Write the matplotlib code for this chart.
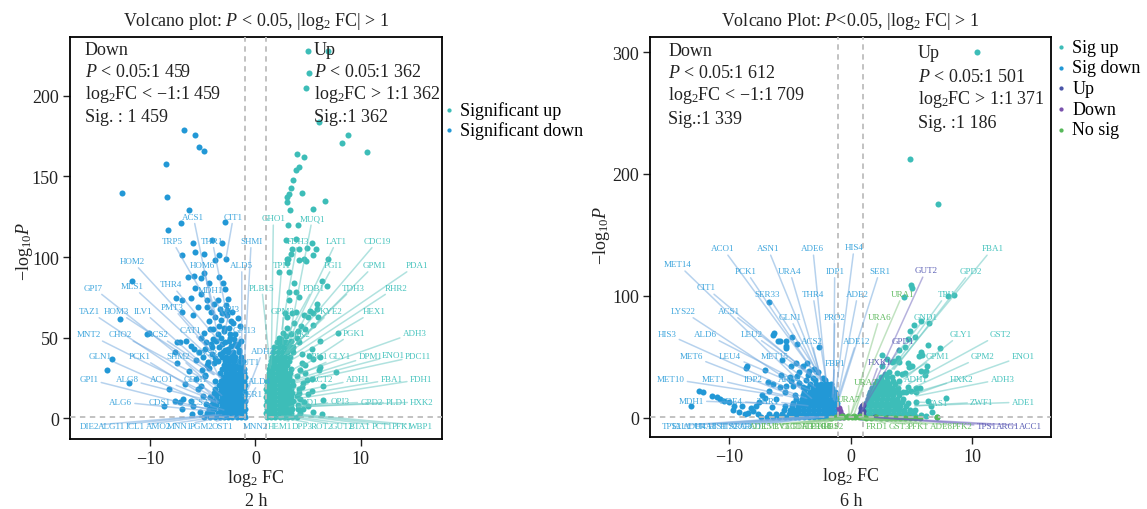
import matplotlib as mp
mp.use("Agg")
import matplotlib.pyplot as plt

mp.rcParams.update({
    "font.family": ["Liberation Serif", "DejaVu Serif"],
    "mathtext.fontset": "custom",
    "mathtext.rm": "Liberation Serif",
    "mathtext.it": "Liberation Serif:italic",
    "mathtext.bf": "Liberation Serif:bold",
    "axes.unicode_minus": True,
})

TEAL = "#3dbdb8"
BLUE = "#2298d6"
NAVY = "#4a55a8"
PURPLE = "#7a52ad"
GREEN = "#57b85a"
LABEL_BLUE = "#3fa6dd"
LABEL_TEAL = "#45c3bd"
LINE_BLUE = "#6fa6dd"
LINE_TEAL = "#62c6c0"
INK = "#222222"
DOT = 19

# ---- 2 h, down: scattered points
p1_down_fc = [-6.8, -5.7, -5.4, -4.9, -8.5, -8.4, -12.7, -6.3, -7.1, -8.3, -2.9, -5.9, -4.1, -3.2, -5.7, -4.9, -7.0,
              -3.5, -2.8, -3.8, -11.7, -12.9, -13.6, -14.1, -12.0, -8.7, -8.2, -10.3, -10.1, -6.4, -5.8, -5.2, -4.9,
              -4.4, -3.5, -3.1, -2.9, -5.7, -7.5, -7.0, -6.1, -5.2, -4.6, -2.6, -5.5, -7.0, -5.9, -7.4, -7.2, -6.6,
              -6.1, -5.8, -7.6, -7.4, -6.3, -6.7, -7.6, -7.2, -6.9, -7.0, -6.0, -5.5, -6.1, -5.9, -5.3, -4.6, -4.2,
              -3.9, -3.4, -2.8, -2.2, -1.7, -4.4, -3.8, -3.3, -2.7, -2.1, -1.5, -4.9, -4.3, -3.6, -3.0, -2.4, -1.9,
              -5.2, -4.7, -4.0, -3.2, -2.5, -1.8, -5.4, -4.8, -4.1, -3.5, -2.9, -2.3, -1.6, -5.6, -5.0, -4.5, -5.1,
              -4.8, -5.6, -5.2, -5.0, -4.7, -3.6, -3.2, -2.7, -2.3, -4.0, -3.5, -3.0, -2.5, -2.0, -4.2, -3.7, -3.3,
              -2.9, -2.4, -1.9, -4.6, -4.1, -3.8, -3.4, -2.6, -2.1, -1.7, -4.8, -4.4, -3.9, -1.4]
p1_down_logp = [179, 176, 168, 166, 158, 137, 140, 129, 121, 117, 122, 109, 110.5, 109, 103, 102, 101,
                101, 99, 98, 85, 61.5, 36.6, 30, 22, 7.5, 18, 52, 53, 87.7, 88, 87, 90,
                84, 87.5, 84, 80, 81, 74.5, 73, 74.5, 77, 73, 74, 69, 66, 64, 47, 47, 48,
                45, 43, 41, 34, 29, 21, 10.6, 10, 12, 5.6, 2.5, 18, 10.6, 7.5, 3.7, 69, 66,
                71, 68, 70, 66, 62, 60, 63, 61, 64, 59, 57, 53, 55, 52, 56, 50, 52,
                50, 47, 49, 46, 48, 45, 41, 43, 40, 44, 42, 45, 42, 36, 38, 35, 30,
                27, 24, 20, 14, 9, 73, 65, 67, 60, 55, 57, 54, 56, 49, 46, 48, 50,
                47, 52, 46, 33, 44, 37, 40, 43, 40, 46, 26, 31, 34, 48]
# 2 h, down: the dense part of the cloud, one row per -log10 P level
p1_down_rows = [
    (0.5, [-1.0, -1.4, -1.8, -2.2, -2.6, -3.0, -3.4, -3.8, -4.3, -4.9]),
    (3.0, [-1.1, -1.6, -2.0, -2.4, -2.8, -3.2, -3.6, -4.1, -4.6]),
    (5.5, [-1.0, -1.4, -1.8, -2.2, -2.6, -3.0, -3.4, -3.9, -4.4]),
    (8.0, [-1.1, -1.6, -2.0, -2.4, -2.8, -3.2, -3.7, -4.2]),
    (10.5, [-1.0, -1.4, -1.8, -2.2, -2.6, -3.0, -3.5, -4.0]),
    (13.0, [-1.1, -1.6, -2.0, -2.4, -2.8, -3.2, -3.7, -4.3]),
    (15.5, [-1.0, -1.4, -1.8, -2.2, -2.6, -3.0, -3.5, -3.9]),
    (18.0, [-1.1, -1.6, -2.0, -2.4, -2.8, -3.3, -3.8]),
    (20.5, [-1.0, -1.4, -1.8, -2.2, -2.6, -3.0, -3.5]),
    (23.0, [-1.1, -1.6, -2.0, -2.4, -2.8, -3.3, -3.8]),
    (25.5, [-1.0, -1.4, -1.8, -2.2, -2.6, -3.1]),
    (28.0, [-1.1, -1.6, -2.0, -2.4, -2.8, -3.4]),
    (30.5, [-1.1, -1.5, -1.9, -2.3, -2.8, -3.2]),
    (33.0, [-1.3, -1.7, -2.1, -2.5, -3.0]),
    (35.5, [-1.2, -1.6, -2.0, -2.5, -2.9, -3.6]),
    (38.0, [-1.4, -1.9, -2.3, -2.8, -3.2]),
    (41.0, [-1.6, -2.1, -2.6, -3.1]),
]

# ---- 2 h, up: scattered points
p1_up_fc = [5.0, 6.9, 5.1, 4.8, 6.0, 8.8, 8.2, 10.6, 3.9, 4.6, 4.1, 3.8, 3.6, 3.4, 3.0, 3.2, 4.4, 3.1, 4.0, 3.3,
            5.5, 3.0, 6.6, 2.9, 3.8, 5.4, 3.5, 4.1, 4.9, 5.7, 3.4, 5.5, 4.6, 4.1, 4.8, 3.1, 3.0, 6.9, 3.0, 2.2, 3.2,
            6.3, 6.8, 3.7, 3.2, 3.8, 4.1, 3.2, 5.8, 5.8, 5.2, 5.5, 4.6, 5.0, 5.9, 2.8, 3.5, 3.8, 3.0, 5.5, 7.8, 6.1,
            5.4, 4.4, 5.1, 6.1, 5.5, 6.1, 7.6, 6.0, 4.9, 5.4, 6.4, 5.4, 5.0, 6.4, 5.0, 5.5, 6.3, 4.5, 4.0, 4.3, 3.7,
            3.0, 4.7, 4.0, 3.4, 2.6, 3.9, 3.4, 2.9, 4.1, 3.2, 2.4, 3.6, 2.8, 2.2, 3.0, 3.5, 4.4, 4.7, 3.9, 4.4, 4.2,
            4.7, 4.2, 4.5, 4.1, 4.6, 3.9]
p1_up_logp = [228, 228, 214, 205, 184, 176, 171, 165, 164, 162, 156, 154, 148, 143, 137, 139, 140, 120, 120, 129,
              130, 134, 135, 110.5, 111, 109, 105, 105, 105.6, 105, 102, 101, 99, 98, 97.5, 99, 96, 99, 99, 91, 91,
              85, 82, 84, 78, 78, 75, 73, 71, 68, 66.5, 65, 64, 63, 62.7, 65, 65, 66, 62.7, 58, 53, 48,
              43, 40, 38.5, 38, 36.6, 32, 28.5, 30, 23.6, 24, 20, 16.8, 15, 11, 7.5, 4, 2.5, 5.6, 5.6, 57, 59,
              56, 55, 54, 52, 53, 50, 48, 51, 47, 45, 49, 44, 47, 50, 43, 42, 34, 28, 26, 19, 12,
              33, 30, 22, 18, 10, 14]
# 2 h, up: dense part
p1_up_rows = [
    (0.5, [1.1, 1.5, 1.9, 2.3, 2.7, 3.1, 3.5, 3.9]),
    (3.0, [1.0, 1.4, 1.8, 2.2, 2.6, 3.0, 3.4, 4.2]),
    (5.5, [1.1, 1.5, 1.9, 2.3, 2.7, 3.1, 3.5]),
    (8.0, [1.0, 1.4, 1.8, 2.2, 2.6, 3.0, 3.4, 4.0]),
    (10.5, [1.1, 1.5, 1.9, 2.3, 2.7, 3.1, 3.6]),
    (13.0, [1.0, 1.4, 1.8, 2.2, 2.6, 3.0, 3.4]),
    (15.5, [1.1, 1.5, 1.9, 2.3, 2.7, 3.1, 3.5, 4.1]),
    (18.0, [1.0, 1.4, 1.8, 2.2, 2.6, 3.0, 3.4]),
    (20.5, [1.1, 1.5, 1.9, 2.3, 2.7, 3.1, 3.6]),
    (23.0, [1.1, 1.4, 1.8, 2.2, 2.6, 3.0, 3.5]),
    (25.5, [1.2, 1.6, 2.0, 2.4, 2.8, 3.2]),
    (28.0, [1.3, 1.7, 2.1, 2.5, 2.9, 3.3]),
    (30.5, [1.3, 1.6, 2.0, 2.4, 2.8, 3.4]),
    (33.0, [1.4, 1.8, 2.2, 2.6, 3.0]),
    (35.5, [1.5, 1.9, 2.3, 2.7, 3.2]),
    (38.0, [1.6, 2.0, 2.4, 2.8, 3.3]),
    (41.0, [1.7, 2.1, 2.5, 3.0, 3.6]),
    (44.0, [1.8, 2.2, 2.6, 3.1]),
    (47.0, [2.0, 2.4, 2.9]),
]

# ---- 2 h gene labels
p1_down_genes = ["ACS1", "CIT1", "TRP5", "THR1", "SHMI", "HOM2", "HOM6", "ALD5", "GPI7", "MLS1", "THR4", "MDH1",
                 "PMT3", "TAZ1", "HOM3", "ILV1", "GPI3", "CAT1", "GPI13", "MNT2", "CHO2", "ACS2", "ADH2", "GUT1",
                 "GLN1", "PCK1", "SHM2", "CYS3", "GPI1", "ALG8", "ACO1", "GDH1", "ALD4", "SER1", "ALG6", "CDS1",
                 "SCS7", "DIE2", "ALG11", "ICL1", "AMO2", "MNN1", "PGM2", "OST1", "MNN2"]
p1_down_gene_fc = [-3.6, -2.8, -3.7, -2.6, -1.1, -4.3, -3.8, -1.3, -4.6, -4.2, -3.1, -2.9,
                   -4.3, -4.2, -4.0, -3.9, -3.0, -3.6, -2.3, -3.9, -3.7, -3.2, -0.7, -1.0,
                   -4.2, -3.6, -3.2, -3.4, -4.3, -3.9, -3.6, -3.5, -0.8, -1.0, -3.9, -3.5,
                   -3.0, -3.8, -3.5, -3.2, -2.8, -2.5, -2.0, -1.5, -1.2]
p1_down_gene_logp = [52, 99, 62, 60, 28, 45, 64, 33, 25, 37, 45, 62,
                     42, 16, 27, 27, 52, 37, 40, 13, 20, 25, 18, 28,
                     8, 9, 14, 25, 5, 10, 10, 10, 10, 9, 4, 5,
                     5, 2, 2, 2, 1.5, 1.5, 1.5, 1.5, 1]
p1_up_genes = ["GHO1", "MUQ1", "FDH3", "LAT1", "CDC19", "TPI1", "PGI1", "GPM1", "PDA1", "PLB15", "PDB1", "TDH3",
               "RHR2", "GPM3", "KYE2", "HEX1", "PGK1", "ADH3", "PFK2", "TPK1", "GLY1", "DPM1", "ENO1", "PDC11",
               "ACT2", "ADH1", "FBA1", "FDH1", "GPD1", "OPI3", "GPD2", "PLD1", "HXK2", "HEM1", "DPP3", "ROT2",
               "GUT2", "BTA1", "PCT1", "PFK1", "WBP1"]
p1_up_gene_fc = [1.5, 3.3, 2.5, 3.0, 3.0, 1.9, 3.0, 2.9, 3.0, 1.4, 2.9, 3.2,
                 3.3, 2.6, 3.2, 3.4, 4.0, 3.5, 2.8, 3.5, 3.8, 3.8, 3.8, 3.8,
                 3.5, 3.8, 3.9, 3.9, 3.2, 4.0, 4.0, 4.0, 4.0, 1.3, 1.8, 2.2,
                 2.5, 3.0, 3.5, 4.0, 4.0]
p1_up_gene_logp = [33, 53, 55, 46, 44, 45, 42, 40, 40, 31, 50, 42,
                   38, 46, 42, 36, 30, 26, 40, 30, 26, 24, 23, 22,
                   18, 16, 14, 12, 7, 7, 8, 7, 7, 1, 1, 1,
                   1.5, 1.5, 2, 2, 2.5]
p1_label_pos = {
    "ACS1": (-5.9, 125), "CIT1": (-2.1, 125), "TRP5": (-7.9, 110), "THR1": (-4.1, 110), "SHMI": (-0.4, 110),
    "HOM2": (-11.7, 97.5), "HOM6": (-5.0, 95), "ALD5": (-1.3, 95), "GPI7": (-15.4, 81), "MLS1": (-11.7, 82),
    "THR4": (-8.0, 83), "MDH1": (-4.3, 79.5), "PMT3": (-7.9, 69), "TAZ1": (-15.8, 66.5), "HOM3": (-13.2, 66.5),
    "ILV1": (-10.7, 66.5), "GPI3": (-2.4, 67.7), "CAT1": (-6.2, 54.7), "GPI13": (-1.1, 54.7), "MNT2": (-15.8, 52),
    "CHO2": (-12.8, 52), "ACS2": (-9.3, 52), "ADH2": (0.7, 41.6), "GUT1": (-0.7, 34.8), "GLN1": (-14.7, 38.5),
    "PCK1": (-11.0, 38.5), "SHM2": (-7.3, 38.5), "CYS3": (-4.6, 40.4), "GPI1": (-15.8, 24), "ALG8": (-12.2, 24),
    "ACO1": (-8.9, 24), "GDH1": (-5.7, 24), "ALD4": (0.4, 23), "SER1": (-0.3, 15), "ALG6": (-12.8, 10),
    "CDS1": (-9.1, 10), "SCS7": (-5.5, 10), "DIE2": (-15.8, -4.7), "ALG11": (-13.7, -4.7), "ICL1": (-11.4, -4.7),
    "AMO2": (-9.2, -4.7), "MNN1": (-7.2, -4.7), "PGM2": (-5.1, -4.7), "OST1": (-3.1, -4.7), "MNN2": (0.0, -4.7),
    "GHO1": (1.7, 124), "MUQ1": (5.4, 124), "FDH3": (4.0, 110), "LAT1": (7.7, 110), "CDC19": (11.6, 110),
    "TPI1": (2.5, 95), "PGI1": (7.4, 95), "GPM1": (11.3, 95), "PDA1": (15.3, 95), "PLB15": (0.6, 81),
    "PDB1": (5.5, 81), "TDH3": (9.3, 81), "RHR2": (13.3, 81), "GPM3": (2.6, 66.5), "KYE2": (7.2, 66.5),
    "HEX1": (11.3, 66.5), "PGK1": (9.3, 53), "ADH3": (15.1, 53), "PFK2": (4.2, 52), "TPK1": (5.9, 38.5),
    "GLY1": (8.0, 38.5), "DPM1": (10.9, 38.5), "ENO1": (13.1, 39), "PDC11": (15.4, 38.5), "ACT2": (6.3, 24),
    "ADH1": (9.7, 24), "FBA1": (12.9, 24), "FDH1": (15.7, 24), "GPD1": (4.9, 10), "OPI3": (8.0, 10.5),
    "GPD2": (11.0, 10), "PLD1": (13.4, 10), "HXK2": (15.8, 10), "HEM1": (2.3, -4.7), "DPP3": (4.4, -4.7),
    "ROT2": (6.3, -4.7), "GUT2": (8.2, -4.7), "BTA1": (9.9, -4.7), "PCT1": (12.0, -4.7), "PFK1": (13.9, -4.7),
    "WBP1": (15.7, -4.7),
}

# ---- 6 h, down
p2_down_fc = [-6.7, -6.3, -6.4, -4.8, -6.0, -5.8, -5.3, -5.3, -5.3, -4.4, -2.6, -8.5, -8.6, -7.0, -5.6, -4.5, -4.9,
              -3.6, -3.9, -5.7, -5.0, -6.8, -12.5, -12.1, -13.1, -11.4, -11.0, -10.7, -10.4, -10.0, -9.6, -9.7,
              -8.7, -8.0, -8.9, -7.5, -6.5, -6.1, -6.4, -5.8, -5.4, -4.4, -4.2, -3.4, -3.0, -2.7, -1.9, -4.9, -4.2,
              -3.5, -3.1, -2.3, -5.3, -4.7, -3.9, -3.7, -2.9, -2.1, -7.3, -7.0, -6.7, -8.2, -7.8, -9.2, -8.4, -7.6]
p2_down_logp = [95, 69.7, 68, 66, 63, 63, 63, 59, 57, 61, 58, 42.6, 41, 39, 47.5, 45, 43,
                45, 43, 35, 33.6, 29.5, 22, 21, 10, 18, 17, 15.6, 14, 13, 10, 6.6,
                3.3, 5.7, 10, 13, 9, 15.6, 28, 25, 21, 34.4, 37.7, 38.5, 40, 37.7, 28, 30, 29,
                35, 33, 33, 26, 26, 25, 31, 31, 31, 19, 16, 22, 8, 10, 5, 4, 3]
p2_down_rows = [
    (0.5, [-1.0, -1.4, -1.8, -2.2, -2.6, -3.0, -3.4, -3.8, -4.2, -4.6, -5.0, -5.4, -5.9, -6.4, -6.9, -7.4]),
    (3.5, [-1.1, -1.5, -1.9, -2.3, -2.7, -3.1, -3.5, -3.9, -4.3, -4.7, -5.1, -5.6, -6.1, -6.7]),
    (6.5, [-1.0, -1.4, -1.8, -2.2, -2.6, -3.0, -3.4, -3.8, -4.2, -4.6, -5.0, -5.5]),
    (9.5, [-1.1, -1.5, -1.9, -2.3, -2.7, -3.1, -3.5, -3.9, -4.3, -4.8, -5.4]),
    (12.5, [-1.1, -1.4, -1.8, -2.2, -2.6, -3.0, -3.4, -3.8, -4.2, -4.7]),
    (15.5, [-1.2, -1.6, -2.0, -2.4, -2.8, -3.2, -3.6, -4.0, -4.5]),
    (18.5, [-1.2, -1.5, -1.9, -2.3, -2.7, -3.1, -3.5, -3.9, -4.6]),
    (21.5, [-1.3, -1.7, -2.1, -2.5, -2.9, -3.3, -3.8]),
    (24.5, [-1.5, -1.9, -2.3, -2.7, -3.1, -3.6]),
    (27.5, [-1.6, -2.0, -2.4, -2.8, -3.3]),
]
p2_down_genes = ["ACO1", "ASN1", "ADE6", "HIS4", "MET14", "PCK1", "URA4", "IDP1", "SER1", "CIT1", "SER33", "THR4",
                 "ADE2", "LYS22", "ACS1", "GLN1", "PRO2", "HIS3", "ALD6", "LEU2", "ACS2", "ADE12", "MET6", "LEU4",
                 "MET15", "FBP1", "MET10", "MET1", "IDP2", "ARO4", "MDH1", "ADE4", "THR1", "TPS2", "TAL1", "ADH4",
                 "URA8", "HIS1", "HIS2", "ARG3", "ARO1"]
p2_down_gene_fc = [-2.6, -2.4, -2.0, -1.3, -4.4, -2.9, -2.4, -1.4, -1.0, -3.4, -2.6, -2.0,
                   -1.1, -4.2, -3.1, -2.4, -1.4, -5.1, -3.9, -2.9, -2.4, -1.1, -4.4, -3.4,
                   -2.9, -1.5, -5.6, -4.3, -3.6, -3.2, -6.8, -4.5, -3.5, -3.5, -3.3, -3.1,
                   -2.9, -2.7, -2.5, -2.3, -2.1]
p2_down_gene_logp = [32, 32, 30, 14, 32, 36, 32, 15, 14, 36, 36, 30,
                     14, 25, 35, 30, 20, 24, 28, 32, 30, 14, 17, 23,
                     25, 17, 18, 16, 16, 16, 12, 10, 10, 1, 1, 1,
                     1, 1, 1, 1, 1]
p2_up_genes = ["FBA1", "GPD2", "TPI1", "GND1", "GLY1", "GST2", "GPM1", "GPM2", "ENO1", "ADH1", "HXK2", "ADH3",
               "FAS1", "ZWF1", "ADE1"]
p2_up_gene_fc = [3.5, 3.6, 3.4, 3.2, 4.4, 4.8, 4.2, 5.2, 5.5, 3.9, 5.0, 5.4, 5.5, 5.3, 5.3]
p2_up_gene_logp = [40, 40, 40, 45, 32, 28, 33, 25, 20, 26, 20, 18, 13, 10, 10]
p2_purple_genes = ["GUT2", "GPD1", "HXK1", "TPS1", "ARG1", "ACC1"]
p2_purple_gene_fc = [1.0, 1.0, 0.9, 2.0, 2.0, 2.0]
p2_purple_gene_logp = [7, 7, 5, 0.5, 0.5, 0.5]
p2_green_genes = ["URA1", "URA6", "URA3", "URA7", "FRD1", "GST3", "PFK1", "ADE8", "PFK2", "ADE5", "ILV3", "ILV5",
                  "GLT1", "GDH3", "ATP1", "ERG8", "PRO1", "HES2"]
p2_green_gene_fc = [0.0, 0.0, 0.3, -0.1, 0.8, 0.9, 1.0, 1.0, 1.0, -0.9, -0.9, -0.8, -0.8, -0.7, -0.7, -0.6, -0.6, -0.5]
p2_green_gene_logp = [2, 2, 3, 2, 0, 0, 0, 0, 0, 0, 0, 0, 0, 0, 0, 0, 0, 0]
p2_label_pos = {
    "ACO1": (-10.5, 139), "ASN1": (-6.8, 139), "ADE6": (-3.1, 139), "HIS4": (0.3, 140), "MET14": (-14.2, 126),
    "PCK1": (-8.6, 120.5), "URA4": (-5.0, 120.5), "IDP1": (-1.3, 120.5), "SER1": (2.4, 120.5), "GUT2": (6.2, 121),
    "FBA1": (11.7, 139), "GPD2": (9.9, 120.5), "CIT1": (-11.9, 107), "SER33": (-6.9, 101.6), "THR4": (-3.1, 101.6),
    "ADE2": (0.6, 101.6), "URA1": (4.3, 101.6), "TPI1": (7.9, 101.6), "LYS22": (-13.8, 87.7), "ACS1": (-10.0, 87.7),
    "GLN1": (-5.0, 82.8), "PRO2": (-1.3, 82.8), "URA6": (2.4, 82.8), "GND1": (6.2, 82.8), "HIS3": (-15.1, 68.9),
    "ALD6": (-11.9, 68.9), "LEU2": (-8.1, 68.9), "ACS2": (-3.2, 63), "ADE12": (0.5, 63), "GPD1": (4.3, 63),
    "GLY1": (9.1, 68.9), "GST2": (12.3, 68.9), "MET6": (-13.1, 50.8), "LEU4": (-9.9, 50.8), "MET15": (-6.2, 50.8),
    "GPM1": (7.2, 50.8), "GPM2": (10.9, 50.8), "ENO1": (14.2, 50.8), "FBP1": (-1.3, 45), "HXK1": (2.4, 46),
    "MET10": (-14.8, 32), "MET1": (-11.3, 32), "IDP2": (-8.0, 32), "ARO4": (-5.0, 32), "ADH1": (5.4, 32),
    "HXK2": (9.1, 32), "ADH3": (12.5, 32), "URA3": (1.2, 29.5), "MDH1": (-13.1, 14), "ADE4": (-9.8, 14),
    "THR1": (-6.8, 14), "URA7": (-0.2, 15.6), "FAS1": (7.2, 12.3), "ZWF1": (10.8, 13), "ADE1": (14.2, 13),
    "FRD1": (2.2, -6.5), "GST3": (4.0, -6.5), "PFK1": (5.6, -6.5), "ADE8": (7.5, -6.5), "PFK2": (9.2, -6.5),
    "TPS1": (11.2, -6.5), "ARG1": (12.9, -6.5), "ACC1": (14.8, -6.5), "TPS2": (-14.7, -6.5), "TAL1": (-13.9, -6.5),
    "ADH4": (-12.8, -6.5), "URA8": (-11.9, -6.5), "HIS1": (-11.0, -6.5), "HIS2": (-10.0, -6.5), "ARG3": (-9.0, -6.5),
    "ARO1": (-8.2, -6.5), "ADE5": (-7.4, -6.5), "ILV3": (-6.6, -6.5), "ILV5": (-5.7, -6.5), "GLT1": (-4.9, -6.5),
    "GDH3": (-4.0, -6.5), "ATP1": (-3.2, -6.5), "ERG8": (-2.4, -6.5), "PRO1": (-1.9, -6.5), "HES2": (-1.4, -6.5),
}

# ---- 6 h, up
p2_up_fc = [10.4, 4.9, 7.2, 5.0, 5.1, 4.4, 8.0, 8.5, 6.5, 5.8, 5.2, 4.9, 5.3, 4.7, 6.4, 7.4, 4.5, 4.0, 5.8, 5.6, 5.9,
            2.6, 3.0, 3.9, 3.6, 4.0, 3.4, 2.6, 4.7, 5.1, 4.8, 6.3, 5.8, 6.2, 6.1, 3.2, 2.8, 3.8, 4.2, 4.5, 4.7, 5.0,
            5.4, 5.7, 5.4, 7.9, 6.4, 5.4, 6.6, 5.3, 6.7, 7.1, 6.2, 5.8, 4.9, 4.4, 4.2, 3.8, 4.3, 3.5]
p2_up_logp = [300, 212, 175, 109, 106.6, 99, 100, 100.8, 77.9, 79.5, 76, 71, 66.4, 64.8, 59.8, 57.4, 58, 55.7, 54,
              50.8, 51.6, 51.6, 48, 49, 46.7, 45.9, 45.9, 43, 45, 42.6, 41.8, 43, 38.5, 38.5, 35, 37.7, 36, 37, 36,
              36.9, 25, 22, 24.6, 24.6, 21, 16, 13.9, 13, 10, 6.6, 4.9, 0.8, 1.6, 2.5, 3.3, 5.7, 13, 10, 21, 23.8]
p2_up_rows = [
    (0.5, [1.0, 1.4, 1.8, 2.2, 2.6, 3.0, 3.4, 3.8, 4.2, 4.6, 5.0, 5.4]),
    (3.5, [1.1, 1.5, 1.9, 2.3, 2.7, 3.1, 3.5, 3.9, 4.3, 4.7, 5.2]),
    (6.5, [1.2, 1.6, 2.0, 2.4, 2.8, 3.2, 3.6, 4.0, 4.4, 4.9]),
    (9.5, [1.2, 1.6, 2.0, 2.4, 2.8, 3.2, 3.6, 4.1, 4.6]),
    (12.5, [1.3, 1.7, 2.1, 2.5, 2.9, 3.3, 3.7, 4.0, 4.7]),
    (15.5, [1.4, 1.8, 2.2, 2.6, 3.0, 3.4, 3.8, 4.3]),
    (18.5, [1.5, 1.9, 2.3, 2.7, 3.1, 3.5, 4.0]),
    (21.5, [1.6, 2.0, 2.4, 2.8, 3.2, 3.6, 3.9, 4.6]),
    (24.5, [1.8, 2.2, 2.6, 3.0, 3.4, 3.9]),
    (27.5, [2.0, 2.4, 2.8, 3.2, 3.7]),
    (30.5, [2.2, 2.6, 3.0, 3.5, 4.0]),
    (33.5, [2.5, 3.0, 3.4]),
]

# ---- 6 h, non significant groups
p2_up_ns_fc = [0.9, 1.0, 0.8, 0.95, 0.85, 1.0, 0.9, 0.8, 0.95, 1.0, 2.0, 3.0]
p2_up_ns_logp = [1, 2.5, 3, 4, 5.5, 6, 8, 2, 10, 11, 0.4, 0.3]
p2_down_ns_fc = [-0.9, -0.8, -0.95, -0.85, -0.7, -0.9, -0.95, -0.75, -0.6]
p2_down_ns_logp = [1, 2, 3.5, 4, 2.5, 6, 8, 1.5, 1]
p2_no_sig_fc = [-1.6, -1.2, -0.9, -0.5, -0.2, 0.1, 0.4, 0.7, 1.0, 1.3, 1.7, 2.1, 2.5, 2.9, 3.3, 3.7, 4.1, 4.5, 4.9,
                5.3, 5.7, 7.1, -0.7, -0.2, 0.3, 0.8]
p2_no_sig_logp = [0.3, 0.5, 0.8, 0.6, 1.0, 0.8, 1.0, 0.5, 0.4, 0.3, 0.3, 0.4, 0.2, 0.3, 0.3, 0.2, 0.3, 0.2, 0.3,
                  0.2, 0.3, 0.8, 1.3, 1.4, 1.5, 1.3]

p1_down_text = ["Down", r"$\mathit{P}$ < 0.05:1 459", r"log$_2$FC < −1:1 459", "Sig. : 1 459"]
p1_up_text = ["Up", r"$\mathit{P}$ < 0.05:1 362", r"log$_2$FC > 1:1 362", "Sig.:1 362"]
p2_down_text = ["Down", r"$\mathit{P}$ < 0.05:1 612", r"log$_2$FC < −1:1 709", "Sig.:1 339"]
p2_up_text = ["Up", r"$\mathit{P}$ < 0.05:1 501", r"log$_2$FC > 1:1 371", "Sig. :1 186"]


def rows_to_xy(rows):
    xs = [x for y, row in rows for x in row]
    ys = [y for y, row in rows for x in row]
    return xs, ys


def gene_labels(ax, genes, fc, logp, pos, text_color, line_color):
    for gene, x, y in zip(genes, fc, logp):
        ax.annotate(gene, xy=(x, y), xytext=pos[gene], ha="center", va="center", fontsize=6.5,
                    color=text_color, zorder=6, annotation_clip=False,
                    arrowprops=dict(arrowstyle="-", color=line_color, alpha=0.5, lw=1.1,
                                    shrinkA=0, shrinkB=0, zorder=1))


def style_axes(ax, xlim, ylim, xticks, yticks):
    ax.set_xlim(*xlim)
    ax.set_ylim(*ylim)
    ax.set_xticks(xticks)
    ax.set_yticks(yticks)
    ax.tick_params(labelsize=13, length=5, width=1, pad=3, color=INK, labelcolor=INK)
    for s in ax.spines.values():
        s.set_linewidth(1.3)
    ax.axvline(-1, color="#bdbdbd", lw=1.3, ls=(0, (3, 2.5)), zorder=5)
    ax.axvline(1, color="#bdbdbd", lw=1.3, ls=(0, (3, 2.5)), zorder=5)
    ax.axhline(0.5, color="#bdbdbd", lw=1.3, ls=(0, (3, 2.5)), zorder=5)


def corner_text(ax, lines, x, ys):
    for line, y in zip(lines, ys):
        ax.text(x, y, line, transform=ax.transAxes, fontsize=13, va="center", color=INK, zorder=7)


fig = plt.figure(figsize=(11.47, 5.10), dpi=100)
ax1 = fig.add_axes([70 / 1147, 70 / 510, 372 / 1147, 402 / 510])
ax2 = fig.add_axes([650 / 1147, 72 / 510, 401 / 1147, 400 / 510])

# 2 h panel
x, y = rows_to_xy(p1_up_rows)
ax1.scatter(p1_up_fc + x, p1_up_logp + y, s=DOT, color=TEAL, lw=0, zorder=3, label="Significant up")
x, y = rows_to_xy(p1_down_rows)
ax1.scatter(p1_down_fc + x, p1_down_logp + y, s=DOT, color=BLUE, lw=0, zorder=3, label="Significant down")
gene_labels(ax1, p1_down_genes, p1_down_gene_fc, p1_down_gene_logp, p1_label_pos, LABEL_BLUE, LINE_BLUE)
gene_labels(ax1, p1_up_genes, p1_up_gene_fc, p1_up_gene_logp, p1_label_pos, LABEL_TEAL, LINE_TEAL)
style_axes(ax1, (-17.6, 17.7), (-13, 236.6), [-10, 0, 10], [0, 50, 100, 150, 200])
corner_text(ax1, p1_down_text, 0.04, [0.97, 0.915, 0.86, 0.803])
corner_text(ax1, p1_up_text, 0.656, [0.97, 0.915, 0.86, 0.803])
ax1.set_title(r"Volcano plot: $\mathit{P}$ < 0.05, |log$_2$ FC| > 1", fontsize=13, pad=9, color=INK)
ax1.set_xlabel("log$_2$ FC", fontsize=13, labelpad=0, color=INK)
ax1.set_ylabel(r"−log$_{10}$$\mathit{P}$", fontsize=13, color=INK)
ax1.yaxis.set_label_coords(-0.095, 0.47)
fig.text(256 / 1147, 1 - 502 / 510, "2 h", fontsize=13, ha="center", va="center", color=INK)
ax1.legend(loc="upper left", bbox_to_anchor=(1.0, 0.845), frameon=False, fontsize=13, markerscale=0.7,
           handlelength=0.6, handletextpad=0.3, labelspacing=0.1, borderpad=0, borderaxespad=0.1)

# 6 h panel
x, y = rows_to_xy(p2_up_rows)
ax2.scatter(p2_up_fc + x, p2_up_logp + y, s=DOT, color=TEAL, lw=0, zorder=3, label="Sig up")
x, y = rows_to_xy(p2_down_rows)
ax2.scatter(p2_down_fc + x, p2_down_logp + y, s=DOT, color=BLUE, lw=0, zorder=3, label="Sig down")
ax2.scatter(p2_up_ns_fc, p2_up_ns_logp, s=DOT, color=NAVY, lw=0, zorder=3.1, label="Up")
ax2.scatter(p2_down_ns_fc, p2_down_ns_logp, s=DOT, color=PURPLE, lw=0, zorder=3.1, label="Down")
ax2.scatter(p2_no_sig_fc, p2_no_sig_logp, s=DOT, color=GREEN, lw=0, zorder=3.2, label="No sig")
gene_labels(ax2, p2_down_genes, p2_down_gene_fc, p2_down_gene_logp, p2_label_pos, LABEL_BLUE, LINE_BLUE)
gene_labels(ax2, p2_up_genes, p2_up_gene_fc, p2_up_gene_logp, p2_label_pos, LABEL_TEAL, LINE_TEAL)
gene_labels(ax2, p2_purple_genes, p2_purple_gene_fc, p2_purple_gene_logp, p2_label_pos, "#5b5fb5", "#6f66bd")
gene_labels(ax2, p2_green_genes, p2_green_gene_fc, p2_green_gene_logp, p2_label_pos, "#62bb62", "#84c784")
style_axes(ax2, (-16.5, 16.5), (-15.6, 312.3), [-10, 0, 10], [0, 100, 200, 300])
corner_text(ax2, p2_down_text, 0.045, [0.967, 0.91, 0.855, 0.797])
corner_text(ax2, p2_up_text, 0.668, [0.96, 0.9, 0.845, 0.787])
ax2.set_title(r"Volcano Plot: $\mathit{P}$<0.05, |log$_2$ FC| > 1", fontsize=13, pad=9, color=INK)
ax2.set_xlabel("log$_2$ FC", fontsize=13, labelpad=0, color=INK)
ax2.set_ylabel(r"−log$_{10}$$\mathit{P}$", fontsize=13, color=INK)
ax2.yaxis.set_label_coords(-0.095, 0.505)
fig.text(851 / 1147, 1 - 502 / 510, "6 h", fontsize=13, ha="center", va="center", color=INK)
ax2.legend(loc="upper left", bbox_to_anchor=(1.008, 1.0), frameon=False, fontsize=13, markerscale=0.7,
           handlelength=0.6, handletextpad=0.3, labelspacing=0.2, borderpad=0, borderaxespad=0.1)

fig.savefig("out.png", dpi=100)
